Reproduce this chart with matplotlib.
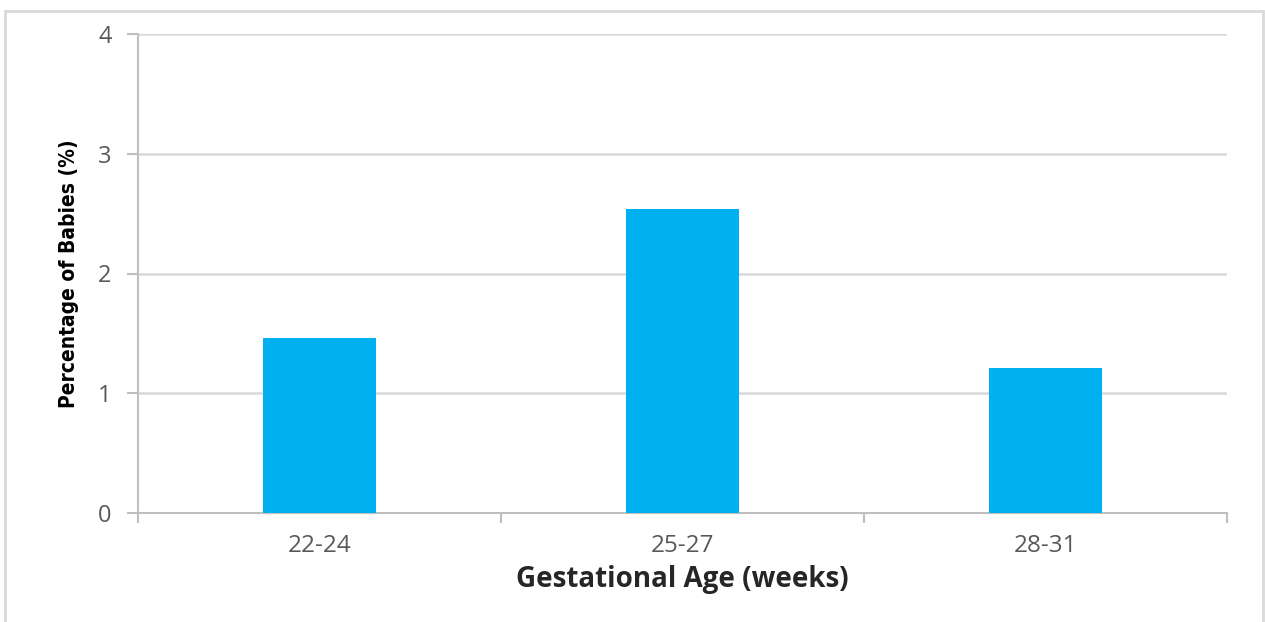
import matplotlib
matplotlib.use("Agg")
import matplotlib.pyplot as plt
from matplotlib.patches import Rectangle
import matplotlib.font_manager as fm

categories = ["22-24", "25-27", "28-31"]
values = [1.46, 2.54, 1.21]
yticks = [0, 1, 2, 3, 4]

names = {f.name for f in fm.fontManager.ttflist}
narrow = "Liberation Sans Narrow" if "Liberation Sans Narrow" in names else "DejaVu Sans"
tickfont = "Open Sans" if "Open Sans" in names else "DejaVu Sans"

fig = plt.figure(figsize=(12.65, 6.22), dpi=100)
W, H = 1265, 622
ax = fig.add_axes([138 / W, 1 - 513 / H, (1227 - 138) / W, (513 - 34) / H])

# outer border
fig.patches.append(Rectangle((5 / W, -0.05), (1263 - 5) / W, 1 - 11 / H + 0.05,
                             transform=fig.transFigure, fill=False,
                             edgecolor="#D9D9D9", linewidth=2))

x = list(range(len(categories)))
ax.bar(x, values, width=0.314, color="#00B0F0", zorder=3)
ax.set_xlim(-0.5, len(categories) - 0.5)
ax.set_ylim(0, 4)
ax.set_yticks(yticks)
ax.set_yticklabels([str(t) for t in yticks])
ax.grid(axis="y", color="#D9D9D9", linewidth=1.8, zorder=0)
ax.set_axisbelow(True)

ax.set_xticks(x)
ax.set_xticklabels(categories)
ax.set_xticks([-0.5 + i for i in range(len(categories) + 1)], minor=True)
ax.tick_params(axis="x", which="major", length=0, pad=15, labelsize=17.5, labelcolor="#595959")
ax.tick_params(axis="x", which="minor", length=7, width=1.5, color="#BFBFBF", direction="out")
ax.tick_params(axis="y", length=8, width=1.5, color="#BFBFBF", pad=11, labelsize=17, labelcolor="#595959")
for lab in ax.get_xticklabels() + ax.get_yticklabels():
    lab.set_family(tickfont)

for s in ["top", "right"]:
    ax.spines[s].set_visible(False)
for s in ["left", "bottom"]:
    ax.spines[s].set_color("#BFBFBF")
    ax.spines[s].set_linewidth(1.5)

ax.set_xlabel("Gestational Age (weeks)", fontsize=20, fontweight="bold", family=tickfont,
              color="#262626", labelpad=5)
if narrow == "DejaVu Sans":
    ax.set_ylabel("Percentage of Babies (%)", fontsize=15, family="DejaVu Sans", fontstretch="condensed",
                  fontweight="bold", color="#000000", labelpad=14)
else:
    ax.set_ylabel("Percentage of Babies (%)", fontsize=17, family=narrow,
                  color="#000000", labelpad=14)

fig.savefig("out.png", dpi=100, facecolor="white")
